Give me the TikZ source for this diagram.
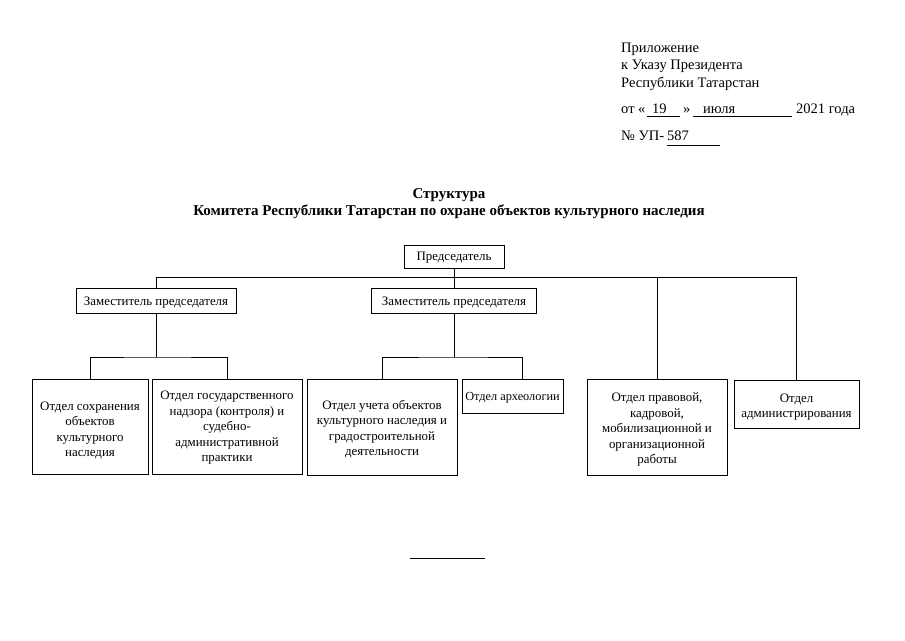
\documentclass[tikz,border=0pt]{standalone}
\usepackage{fontspec}
\setmainfont{Liberation Serif}
\begin{document}
\begin{tikzpicture}[x=1pt,y=-1pt,
  box/.style={draw,line width=0.8pt,inner sep=0pt},
  txt/.style={inner sep=0pt,align=center,font=\fontsize{12.9}{15.5}\selectfont},
  conn/.style={line width=0.8pt},
  hdr/.style={anchor=base west,inner sep=0pt,font=\fontsize{14.5}{17}\selectfont},
  ttl/.style={anchor=base,inner sep=0pt,font=\fontsize{15}{17}\selectfont\bfseries},
  uline/.style={line width=0.6pt}]
\useasboundingbox (0,0) rectangle (905,640);
% header
\node[hdr] (h1) at (621,52) {Приложение};
\node[hdr] (h2) at (621,69.5) {к Указу Президента};
\node[hdr] (h3) at (621,87) {Республики Татарстан};
\node[hdr] (h4a) at (621,113) {от «};
\node[hdr] (h4b) at (652,113) {19};
\node[hdr] (h4c) at (683,113) {»};
\node[hdr] (h4d) at (703,113) {июля};
\node[hdr] (h4e) at (796,113) {2021 года};
\node[hdr] (h5a) at (621,140) {№ УП-};
\node[hdr] (h5b) at (667,140) {587};
\coordinate (u1a) at (647,116); \coordinate (u1b) at (680,116);
\coordinate (u2a) at (693,116); \coordinate (u2b) at (792,116);
\coordinate (u3a) at (667,145); \coordinate (u3b) at (720,145);
\draw[uline] (u1a) -- (u1b);
\draw[uline] (u2a) -- (u2b);
\draw[uline] (u3a) -- (u3b);
% title
\node[ttl] (t1) at (449,198) {Структура};
\node[ttl] (t2) at (449,215) {Комитета Республики Татарстан по охране объектов культурного наследия};
% boxes
\node[box,minimum width=100pt,minimum height=23pt] (chair) at (454,256.5) {};
\node[txt] (chairt) at ([yshift=-1.5pt]chair.center) {Председатель};
\node[box,minimum width=160pt,minimum height=25pt] (dep1) at (156,300.5) {};
\node[txt] (dep1t) at ([yshift=-2pt]dep1.center) {Заместитель председателя};
\node[box,minimum width=165pt,minimum height=25pt] (dep2) at (454,300.5) {};
\node[txt] (dep2t) at ([yshift=-2pt]dep2.center) {Заместитель председателя};
\node[box,minimum width=116pt,minimum height=95pt] (o1) at (90,426.5) {};
\node[txt] (o1t) at ([yshift=-4pt]o1.center) {Отдел сохранения\\объектов\\культурного\\наследия};
\node[box,minimum width=150pt,minimum height=95pt] (o2) at (227,426.5) {};
\node[txt] (o2t) at ([yshift=-1.5pt]o2.center) {Отдел государственного\\надзора (контроля) и\\судебно-\\административной\\практики};
\node[box,minimum width=150pt,minimum height=96pt] (o3) at (382,427) {};
\node[txt] (o3t) at ([yshift=-2pt]o3.center) {Отдел учета объектов\\культурного наследия и\\градостроительной\\деятельности};
\node[box,minimum width=101pt,minimum height=34pt] (o4) at (512.5,396) {};
\node[txt,font=\fontsize{12.3}{15}\selectfont] (o4t) at ([yshift=-1.5pt]o4.center) {Отдел археологии};
\node[box,minimum width=140pt,minimum height=96pt] (o5) at (657,427) {};
\node[txt] (o5t) at ([yshift=-2.5pt]o5.center) {Отдел правовой,\\кадровой,\\мобилизационной и\\организационной\\работы};
\node[box,minimum width=125pt,minimum height=48pt] (o6) at (796.5,404) {};
\node[txt] (o6t) at ([yshift=-3pt]o6.center) {Отдел\\администрирования};
% connectors
\coordinate (busL) at (156,277);
\coordinate (busR) at (796.5,277);
\draw[conn] (busL) -- (busR);
\draw[conn] (chair.south) -- (dep2.north);
\draw[conn] (busL) -- (dep1.north);
\draw[conn] (busR) -- (o6.north);
\draw[conn] (o5.north |- busL) -- (o5.north);
\coordinate (j1) at (156,357);
\draw[conn] (dep1.south) -- (j1);
\draw[conn] (o1.north) |- (j1) -| (o2.north);
\coordinate (j2) at (454,357);
\draw[conn] (dep2.south) -- (j2);
\draw[conn] (o3.north) |- (j2) -| ([xshift=9.5pt]o4.north);
% bottom line
\coordinate (b1) at (410,558); \coordinate (b2) at (485,558);
\draw[uline] (b1) -- (b2);
\end{tikzpicture}
\end{document}
